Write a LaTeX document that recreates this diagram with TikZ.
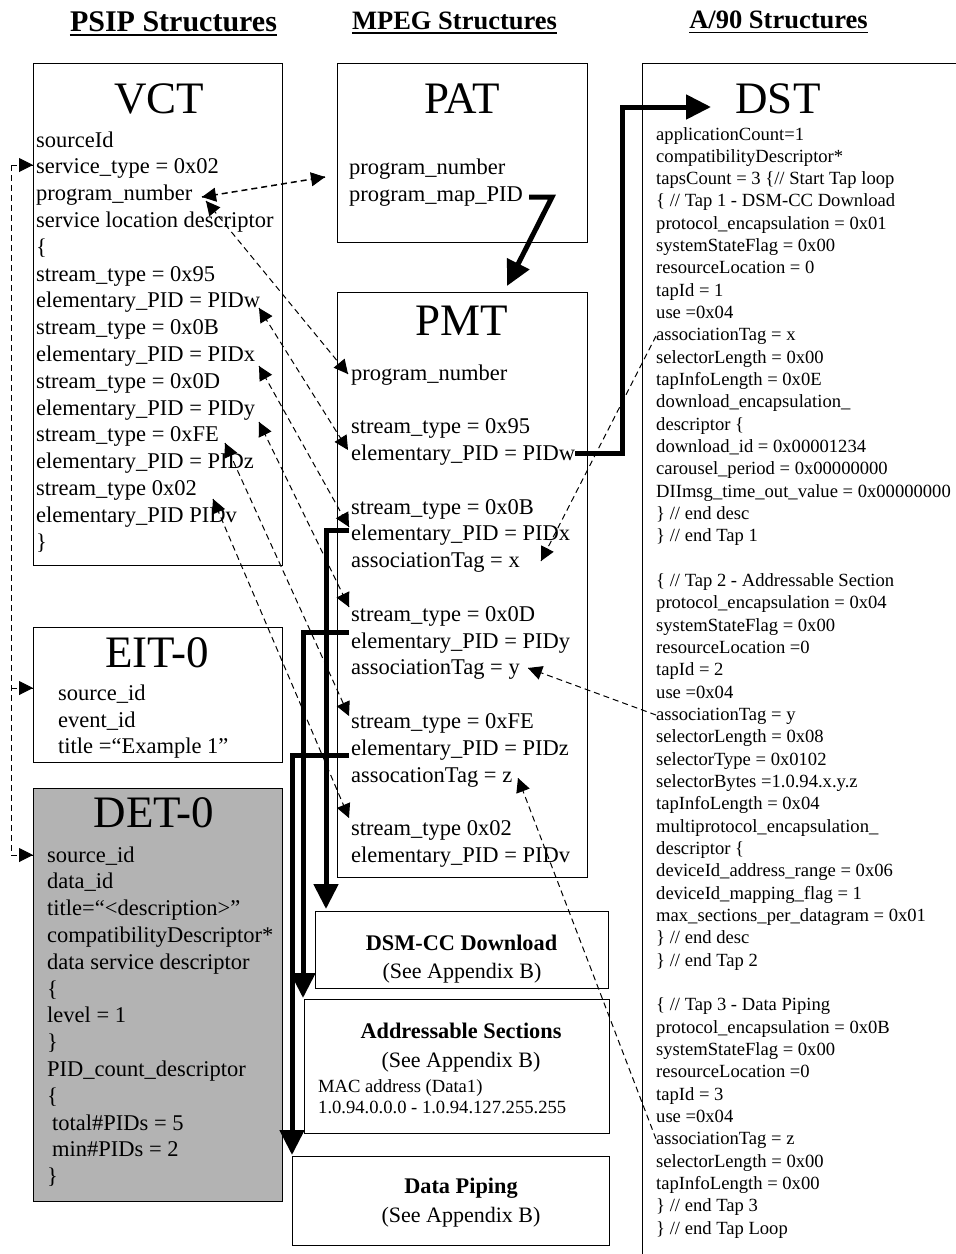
\documentclass[tikz,border=0pt]{standalone}
\usepackage{fontspec}
\setmainfont{Liberation Serif}
\usetikzlibrary{arrows.meta,calc}
\definecolor{detgray}{RGB}{179,179,179}
\begin{document}
\begin{tikzpicture}[x=1pt,y=-1pt,
  box/.style={draw=black, line width=1pt, inner sep=0pt, anchor=north west},
  ttl/.style={anchor=base, inner sep=0pt, font=\fontsize{45}{50}\selectfont},
  hdr/.style={anchor=base, inner sep=0pt, font=\bfseries\fontsize{#1}{#1}\selectfont},
  big/.style={anchor=base west, inner sep=0pt, font=\fontsize{22.5}{27}\selectfont},
  sml/.style={anchor=base west, inner sep=0pt, font=\fontsize{18.6}{22}\selectfont},
  ctr/.style={anchor=base, inner sep=0pt, font=\fontsize{22}{26}\selectfont},
  bctr/.style={anchor=base, inner sep=0pt, font=\bfseries\fontsize{22.3}{26}\selectfont},
  thk/.style={line width=5pt, line join=miter, -{Triangle[length=25pt,width=24pt]}},
  dsh/.style={line width=1pt, dash pattern=on 6pt off 4pt},
  tipo/.style={line width=1pt, solid, -{Triangle[length=14pt,width=14pt,line width=1pt]}}
]
\useasboundingbox (0,0) rectangle (956,1254);
\clip (0,0) rectangle (956,1254);

% headers
\node[hdr=30] (h1) at (173.5,31) {PSIP Structures};
\node[hdr=26.5] (h2) at (454.5,29) {MPEG Structures};
\node[hdr=26.5] (h3) at (778.5,28.5) {A/90 Structures};
\draw[line width=1.8pt] ([yshift=-4pt]h1.base west) -- ([yshift=-4pt]h1.base east);
\draw[line width=1.8pt] ([yshift=-4pt]h2.base west) -- ([yshift=-4pt]h2.base east);
\draw[line width=1.8pt] ([yshift=-4pt]h3.base west) -- ([yshift=-4pt]h3.base east);

% boxes
\node[box, minimum width=249pt, minimum height=502pt] (vct) at (33,63) {};
\node[box, minimum width=250pt, minimum height=179pt] (pat) at (337,63) {};
\node[box, minimum width=250pt, minimum height=585pt] (pmt) at (337,292) {};
\node[box, minimum width=340pt, minimum height=1220pt] (dst) at (642,63) {};
\node[box, minimum width=249pt, minimum height=135pt] (eit) at (33,627) {};
\node[box, fill=detgray, minimum width=249pt, minimum height=413pt] (det) at (33,788) {};
\node[box, minimum width=293pt, minimum height=77pt] (dsm) at (315,911) {};
\node[box, minimum width=305pt, minimum height=134pt] (adr) at (304,999) {};
\node[box, minimum width=317pt, minimum height=89pt] (pip) at (292,1156) {};

% titles
\node[ttl] (vctT) at (159,113) {VCT};
\node[ttl] (patT) at (462,113) {PAT};
\node[ttl] (pmtT) at (462,335) {PMT};
\node[ttl] (dstT) at (778,113) {DST};
\node[ttl] (eitT) at (157,667) {EIT-0};
\node[ttl] (detT) at (154,827) {DET-0};

% VCT text
\foreach \t [count=\i] in {sourceId, service\_type = 0x02, program\_number, service location descriptor, \{, stream\_type = 0x95, elementary\_PID = PIDw, stream\_type = 0x0B, elementary\_PID = PIDx, stream\_type = 0x0D, elementary\_PID = PIDy, stream\_type = 0xFE, elementary\_PID = PIDz, stream\_type 0x02, elementary\_PID PIDv, \}}
  \node[big] (vct\i) at (36,{147+26.8*(\i-1)}) {\t};

% PAT text
\node[big] (pat1) at (349,174) {program\_number};
\node[big] (pat2) at (349,201) {program\_map\_PID};

% PMT text
\foreach \t/\k in {program\_number/0, stream\_type = 0x95/2, elementary\_PID = PIDw/3, stream\_type = 0x0B/5, elementary\_PID = PIDx/6, associationTag = x/7, stream\_type = 0x0D/9, elementary\_PID = PIDy/10, associationTag = y/11, stream\_type = 0xFE/13, elementary\_PID = PIDz/14, assocationTag = z/15, stream\_type 0x02/17, elementary\_PID = PIDv/18}
  \node[big] (pmt\k) at (351,{380+26.8*\k}) {\t};

% DST text
\foreach \t [count=\i from 0] in {applicationCount=1, compatibilityDescriptor*, tapsCount = 3 \{// Start Tap loop, \{ // Tap 1 - DSM-CC Download, protocol\_encapsulation = 0x01, systemStateFlag = 0x00, resourceLocation = 0, tapId = 1, use =0x04, associationTag = x, selectorLength = 0x00, tapInfoLength = 0x0E, download\_encapsulation\_, descriptor \{, download\_id = 0x00001234, carousel\_period = 0x00000000, DIImsg\_time\_out\_value = 0x00000000, \} // end desc, \} // end Tap 1}
  \node[sml] (dst\i) at (656,{140+22.33*\i}) {\t};
\foreach \t [count=\i from 20] in {\{ // Tap 2 - Addressable Section, protocol\_encapsulation = 0x04, systemStateFlag = 0x00, resourceLocation =0, tapId = 2, use =0x04, associationTag = y, selectorLength = 0x08, selectorType = 0x0102, selectorBytes =1.0.94.x.y.z, tapInfoLength = 0x04, multiprotocol\_encapsulation\_, descriptor \{, deviceId\_address\_range = 0x06, deviceId\_mapping\_flag = 1, max\_sections\_per\_datagram = 0x01, \} // end desc, \} // end Tap 2}
  \node[sml] (dst\i) at (656,{140+22.33*\i}) {\t};
\foreach \t [count=\i from 39] in {\{ // Tap 3 - Data Piping, protocol\_encapsulation = 0x0B, systemStateFlag = 0x00, resourceLocation =0, tapId = 3, use =0x04, associationTag = z, selectorLength = 0x00, tapInfoLength = 0x00, \} // end Tap 3, \} // end Tap Loop}
  \node[sml] (dst\i) at (656,{140+22.33*\i}) {\t};

% EIT text
\node[big] (eit1) at (58,700) {source\_id};
\node[big] (eit2) at (58,727) {event\_id};
\node[big] (eit3) at (58,753) {title =“Example 1”};

% DET text
\foreach \t [count=\i from 0] in {source\_id, data\_id, title=“<description>”, compatibilityDescriptor*, data service descriptor, \{, level = 1, \}, PID\_count\_descriptor, \{}
  \node[big] (det\i) at (47,{862+26.8*\i}) {\t};
\node[big] (det10) at (52,{862+26.8*10}) {total\#PIDs = 5};
\node[big] (det11) at (52,{862+26.8*11}) {min\#PIDs = 2};
\node[big] (det12) at (47,{862+26.8*12}) {\}};

% lower boxes text
\node[bctr] (dsm1) at (461.5,950) {DSM-CC Download};
\node[ctr] (dsm2) at (462,978) {(See Appendix B)};
\node[bctr] (adr1) at (461,1038) {Addressable Sections};
\node[ctr] (adr2) at (461,1067) {(See Appendix B)};
\node[sml] (adr3) at (318,1092) {MAC address (Data1)};
\node[sml] (adr4) at (318,1113) {1.0.94.0.0.0 - 1.0.94.127.255.255};
\node[bctr] (pip1) at (461,1193) {Data Piping};
\node[ctr] (pip2) at (461,1222) {(See Appendix B)};

% coordinates for connectors
\coordinate (pA0) at (529,197);  \coordinate (pA1) at (552,197); \coordinate (pA2) at (507,286);
\coordinate (pB0) at (575,453);  \coordinate (pB1) at (622,453); \coordinate (pB2) at (622,107); \coordinate (pB3) at (711,107);
\coordinate (pC0) at (349,530);  \coordinate (pC1) at (326,530); \coordinate (pC2) at (326,909);
\coordinate (pD0) at (349,632);  \coordinate (pD1) at (303,632); \coordinate (pD2) at (303,998);
\coordinate (pE0) at (349,755);  \coordinate (pE1) at (292,755); \coordinate (pE2) at (292,1155);

\coordinate (vPN) at (202,197);  \coordinate (patPN) at (325,177);
\coordinate (vPN2) at (206,201); \coordinate (mPN) at (348,374);
\coordinate (vW) at (259,308);   \coordinate (mW) at (348,450);
\coordinate (vX) at (259,366);   \coordinate (mX) at (349,527);
\coordinate (vY) at (259,422);   \coordinate (mY) at (349,607);
\coordinate (vZ) at (225,443);   \coordinate (mZ) at (349,716);
\coordinate (vV) at (213,499);   \coordinate (mV) at (349,818);
\coordinate (dX) at (656,336);   \coordinate (mtX) at (541,561);
\coordinate (dY) at (656,715);   \coordinate (mtY) at (528,668);
\coordinate (dZ) at (656,1139);  \coordinate (mtZ) at (518,778);
\coordinate (lT) at (11,165); \coordinate (lM) at (11,688); \coordinate (lB) at (11,855);
\coordinate (vIn) at (33,165); \coordinate (eIn) at (33,688); \coordinate (dIn) at (33,855);

% thick connectors
\draw[thk] (pA0) -- (pA1) -- (pA2);
\draw[thk] (pB0) -- (pB1) -- (pB2) -- (pB3);
\draw[thk] (pC0) -- (pC1) -- (pC2);
\draw[thk] (pD0) -- (pD1) -- (pD2);
\draw[thk] (pE0) -- (pE1) -- (pE2);

% dashed connectors (dashed line, then solid tips)
\draw[dsh, line width=1.5pt] (vPN) -- (patPN);
\foreach \a/\b in {vPN2/mPN, vW/mW, vX/mX, vY/mY, vZ/mZ, vV/mV, dX/mtX, dY/mtY, dZ/mtZ}
  \draw[dsh] (\a) -- (\b);
\draw[dsh] (lT) -- (lB);
\draw[dsh] (lT) -- (vIn);
\draw[dsh] (lM) -- (eIn);
\draw[dsh] (lB) -- (dIn);

\foreach \a/\b in {vPN/patPN, patPN/vPN, vPN2/mPN, mPN/vPN2, vW/mW, mW/vW, vX/mX, mX/vX, vY/mY, mY/vY, vZ/mZ, mZ/vZ, vV/mV, mV/vV, dX/mtX, dY/mtY, dZ/mtZ, lT/vIn, lM/eIn, lB/dIn}
  \draw[tipo] ($(\b)!2pt!(\a)$) -- (\b);
\end{tikzpicture}
\end{document}
